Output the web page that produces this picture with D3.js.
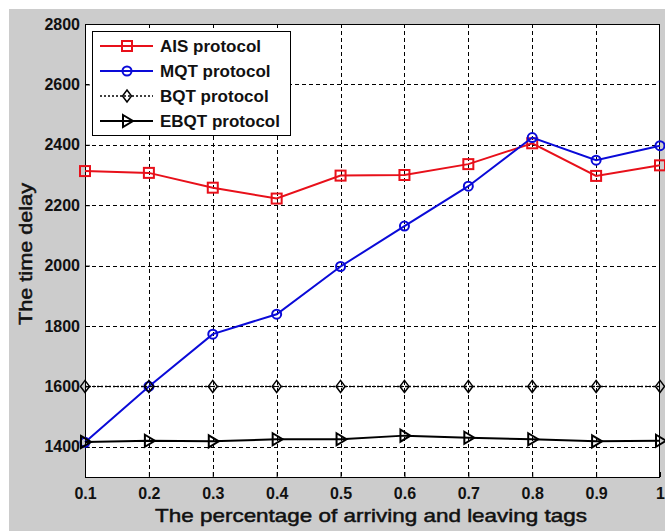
<!DOCTYPE html>
<html>
<head>
<meta charset="utf-8">
<title>Time delay</title>
<script src="https://cdn.jsdelivr.net/npm/d3@7"></script>
<style>
body{ margin:0; background:#fff; }
svg{ display:block; font-family:"Liberation Sans", Arial, sans-serif; }
</style>
</head>
<body>
<script>
  // data
  var xValues = [0.1, 0.2, 0.3, 0.4, 0.5, 0.6, 0.7, 0.8, 0.9, 1];
  var aisValues  = [2313, 2307, 2258, 2222, 2298, 2300, 2336, 2405, 2297, 2332];
  var mqtValues  = [1415, 1600, 1773, 1839, 1997, 2131, 2263, 2424, 2349, 2397];
  var bqtValues  = [1600, 1600, 1600, 1600, 1600, 1600, 1600, 1600, 1600, 1600];
  var ebqtValues = [1416, 1420, 1418, 1425, 1425, 1437, 1430, 1425, 1418, 1420];
  var xTicks = [0.1, 0.2, 0.3, 0.4, 0.5, 0.6, 0.7, 0.8, 0.9, 1];
  var yTicks = [1400, 1600, 1800, 2000, 2200, 2400, 2600, 2800];

  var width = 665, height = 532;
  var pLeft = 85, pRight = 660, pTop = 24, pBottom = 477;

  var svg = d3.select("body").append("svg").attr("width", width).attr("height", height);

  // grey figure background
  svg.append("rect").attr("x", 9).attr("y", 9).attr("width", width - 9).attr("height", height - 10)
    .attr("fill", "#cccccc");
  svg.append("rect").attr("x", pLeft).attr("y", pTop).attr("width", pRight - pLeft).attr("height", pBottom - pTop)
    .attr("fill", "#fff");

  var x = d3.scaleLinear().domain([0.1, 1]).range([pLeft, pRight]);
  var y = d3.scaleLinear().domain([1300, 2800]).range([pBottom, pTop]);

  // grid
  var grid = svg.append("g").attr("stroke", "#000").attr("stroke-width", 1).attr("stroke-dasharray", "4,3");
  grid.selectAll(".gx").data(xTicks.slice(1, -1)).enter().append("line")
    .attr("x1", function(d) { return Math.round(x(d)) + 0.5; })
    .attr("x2", function(d) { return Math.round(x(d)) + 0.5; })
    .attr("y1", pTop).attr("y2", pBottom);
  grid.selectAll(".gy").data(yTicks.slice(0, -1)).enter().append("line")
    .attr("y1", function(d) { return Math.round(y(d)) + 0.5; })
    .attr("y2", function(d) { return Math.round(y(d)) + 0.5; })
    .attr("x1", pLeft).attr("x2", pRight);

  // axes
  var xAxis = d3.axisBottom(x).tickValues(xTicks).tickSize(-5).tickPadding(11)
    .tickFormat(function(d) { return d === 1 ? "1" : d3.format(".1f")(d); });
  var yAxis = d3.axisLeft(y).tickValues(yTicks).tickSize(-5).tickPadding(5).tickFormat(d3.format("d"));

  var gx = svg.append("g").attr("transform", "translate(0," + pBottom + ")").call(xAxis);
  var gy = svg.append("g").attr("transform", "translate(" + pLeft + ",0)").call(yAxis);
  [gx, gy].forEach(function(g) {
    g.select(".domain").remove();
    g.selectAll("text").attr("font-size", 16).attr("font-weight", "bold").attr("fill", "#111")
      .attr("font-family", "'Liberation Sans', Arial, sans-serif");
    g.selectAll("line").attr("stroke", "#000");
  });

  svg.append("rect").attr("x", pLeft + 0.5).attr("y", pTop + 0.5)
    .attr("width", pRight - pLeft - 1).attr("height", pBottom - pTop)
    .attr("fill", "none").attr("stroke", "#000").attr("stroke-width", 1);

  // titles
  svg.append("text").attr("x", 371).attr("y", 522)
    .attr("text-anchor", "middle").attr("font-size", 19).attr("fill", "#111")
    .attr("stroke", "#111").attr("stroke-width", 0.5)
    .attr("textLength", 432).attr("lengthAdjust", "spacingAndGlyphs")
    .text("The percentage of arriving and leaving tags");
  svg.append("text").attr("transform", "translate(32,254) rotate(-90)")
    .attr("text-anchor", "middle").attr("font-size", 19).attr("fill", "#111")
    .attr("stroke", "#111").attr("stroke-width", 0.5)
    .attr("textLength", 142).attr("lengthAdjust", "spacingAndGlyphs")
    .text("The time delay");

  // series
  var series = [
    { name: "AIS protocol", values: aisValues, color: "#e8101a", dash: null, width: 2, marker: "square" },
    { name: "MQT protocol", values: mqtValues, color: "#0a0ad8", dash: null, width: 2, marker: "circle" },
    { name: "BQT protocol", values: bqtValues, color: "#000", dash: "2,2", width: 1.5, marker: "diamond" },
    { name: "EBQT protocol", values: ebqtValues, color: "#000", dash: null, width: 2, marker: "triangle" }
  ];

  var line = d3.line()
    .x(function(d, i) { return x(xValues[i]); })
    .y(function(d) { return y(d); });

  function drawMarker(g, type, color) {
    if (type === "square") {
      g.append("rect").attr("x", -5).attr("y", -5).attr("width", 10).attr("height", 10)
        .attr("fill", "none").attr("stroke", color).attr("stroke-width", 2);
    } else if (type === "circle") {
      g.append("circle").attr("r", 4.5).attr("fill", "none").attr("stroke", color).attr("stroke-width", 2);
    } else if (type === "diamond") {
      g.append("path").attr("d", "M0,-6L4.5,0L0,6L-4.5,0Z")
        .attr("fill", "none").attr("stroke", color).attr("stroke-width", 1.5);
    } else {
      g.append("path").attr("d", "M-4,-6L6,0L-4,6Z")
        .attr("fill", "none").attr("stroke", color).attr("stroke-width", 2);
    }
  }

  var plot = svg.append("g");
  series.forEach(function(s) {
    plot.append("path").attr("d", line(s.values)).attr("fill", "none")
      .attr("stroke", s.color).attr("stroke-width", s.width)
      .attr("stroke-dasharray", s.dash);
    s.values.forEach(function(v, i) {
      var m = plot.append("g").attr("transform", "translate(" + x(xValues[i]) + "," + y(v) + ")");
      drawMarker(m, s.marker, s.color);
    });
  });

  // legend
  var legend = svg.append("g");
  legend.append("rect").attr("x", 92.5).attr("y", 31.5).attr("width", 198).attr("height", 104)
    .attr("fill", "#fff").attr("stroke", "#000").attr("stroke-width", 1);
  series.forEach(function(s, i) {
    var ly = 46 + i * 25;
    legend.append("line").attr("x1", 100).attr("x2", 153).attr("y1", ly).attr("y2", ly)
      .attr("stroke", s.color).attr("stroke-width", s.width).attr("stroke-dasharray", s.dash);
    var m = legend.append("g").attr("transform", "translate(127," + ly + ")");
    drawMarker(m, s.marker, s.color);
    legend.append("text").attr("x", 160).attr("y", ly + 6).attr("font-size", 17)
      .attr("font-weight", "bold").attr("fill", "#111").text(s.name);
  });
</script>
</body>
</html>
